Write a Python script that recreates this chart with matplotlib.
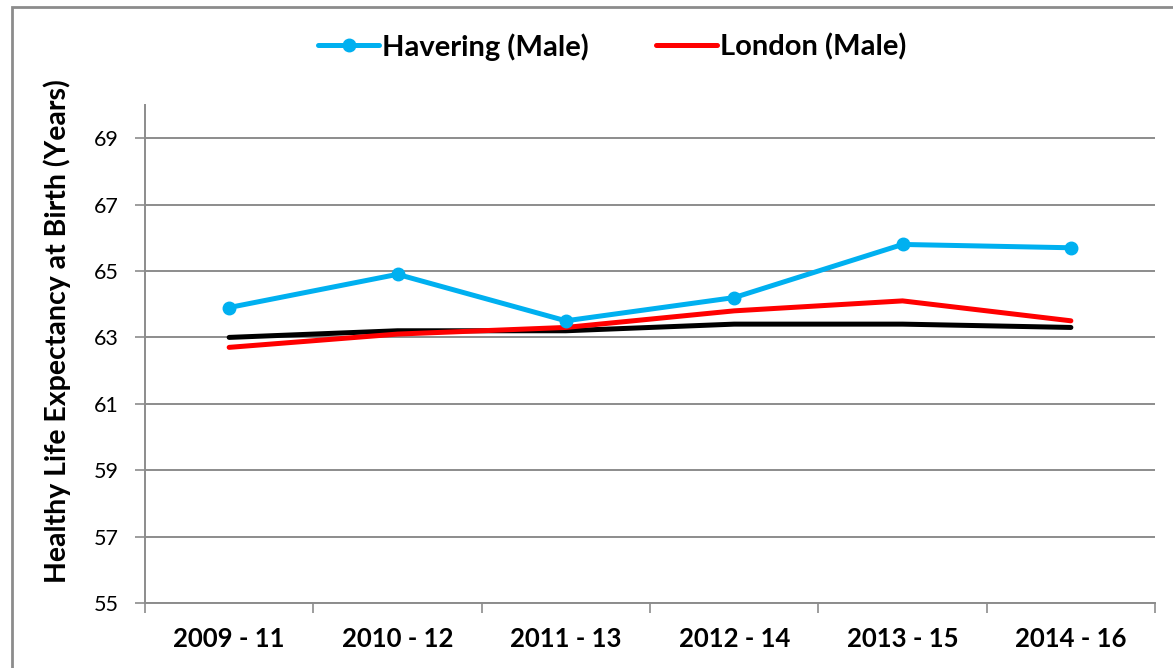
import matplotlib.pyplot as plt
import numpy as np
from matplotlib.patches import Rectangle

plt.rcParams['font.family'] = ['Lato', 'DejaVu Sans']

# chart data
periods = ['2009 - 11', '2010 - 12', '2011 - 13', '2012 - 14', '2013 - 15', '2014 - 16']
havering_male = [63.9, 64.9, 63.5, 64.2, 65.8, 65.7]
london_male = [62.7, 63.1, 63.3, 63.8, 64.1, 63.5]
england_male = [63.0, 63.2, 63.2, 63.4, 63.4, 63.3]
y_ticks = [55, 57, 59, 61, 63, 65, 67, 69]

grey = '#8c8c8c'

fig = plt.figure(figsize=(11.73, 6.68), dpi=100)
ax = fig.add_axes([0.1236, 0.0973, 0.8611, 0.7455])

x = np.arange(len(periods))

ax.plot(x, england_male, color='black', linewidth=3.6, solid_capstyle='round', zorder=3)
ax.plot(x, london_male, color='#FF0000', linewidth=3.6, solid_capstyle='round',
        label='London (Male)', zorder=4)
ax.plot(x, havering_male, color='#00B0F0', linewidth=3.6, marker='o', markersize=9,
        solid_capstyle='round', label='Havering (Male)', zorder=5)

ax.set_xlim(-0.5, len(periods) - 0.5)
ax.set_ylim(55, 70)
ax.set_yticks(y_ticks)
ax.set_xticks(x)
ax.set_xticklabels(periods, fontsize=18.5, fontweight='bold')
ax.set_xticks(np.arange(-0.5, len(periods)), minor=True)
ax.tick_params(axis='x', which='major', length=0, pad=17)
ax.tick_params(axis='x', which='minor', length=7, width=1.2, color=grey, direction='out')
ax.tick_params(axis='y', length=7.2, width=1.2, color=grey, direction='out', labelsize=15.5, pad=12)

ax.grid(axis='y', color=grey, linewidth=1.4)
ax.set_axisbelow(True)
for side in ['top', 'right']:
    ax.spines[side].set_visible(False)
for side in ['left', 'bottom']:
    ax.spines[side].set_color(grey)
    ax.spines[side].set_linewidth(1.4)

ax.set_ylabel('Healthy Life Expectancy at Birth (Years)', fontsize=20.5, fontweight='bold')
ax.yaxis.set_label_coords(-0.073, 0.545)

handles, labels = ax.get_legend_handles_labels()
fig.legend(handles[::-1], labels[::-1], loc='center', bbox_to_anchor=(0.522, 0.93), ncol=2,
           frameon=False, prop={'size': 21, 'weight': 'bold'}, handlelength=2.1,
           handletextpad=0.1, columnspacing=2.3)

# outer chart border
fig.patches.append(Rectangle((12 / 1173, -0.1), 1.2, 1 - 7 / 668 + 0.1,
                             transform=fig.transFigure, fill=False,
                             edgecolor=grey, linewidth=2))

fig.savefig('out.png', dpi=100)
